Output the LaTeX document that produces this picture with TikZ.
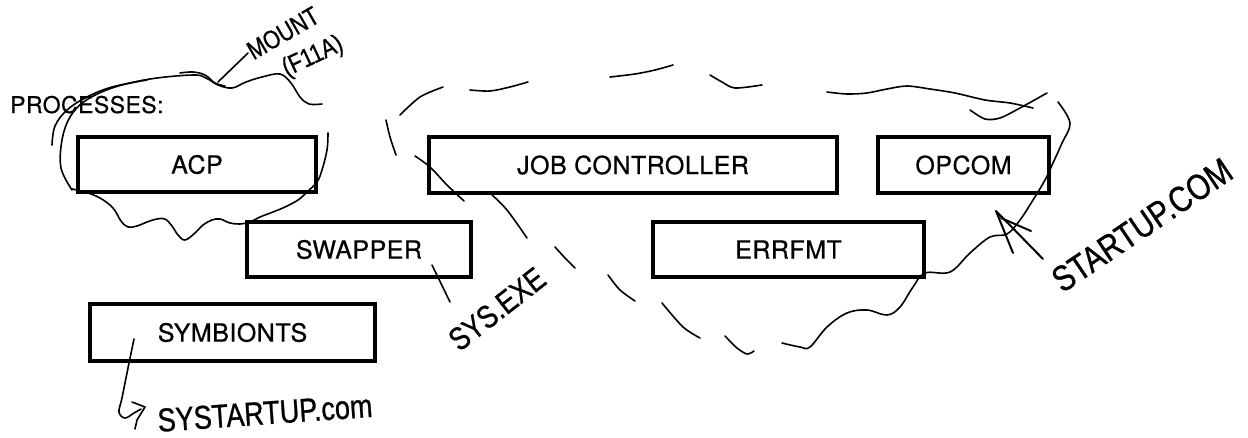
\documentclass[tikz,border=0pt]{standalone}
\usepackage{fontspec}
\setmainfont{TeX Gyre Heros}[LetterSpace=2, FakeBold=0.6]
\newfontfamily\hand{Liberation Sans}[FakeStretch=0.82, FakeBold=0.8]
\begin{document}
\begin{tikzpicture}[x=1pt,y=-1pt,
  procbox/.style={draw, line width=3.5pt, inner sep=0pt, font=\fontsize{25}{30}\selectfont},
  inkline/.style={line width=1.6pt, line cap=round, line join=round},
  scrawl/.style={inner sep=0pt}]

\fill[white] (0,0) rectangle (1248,437);
\useasboundingbox (0,0) rectangle (1248,437);

% heading
\node[anchor=base west, inner sep=0pt, font=\fontsize{23}{28}\selectfont] (heading) at (10,113) {PROCESSES:};

% process boxes
\node[procbox, minimum width=238pt, minimum height=55pt] (acp)    at (197,164.5)   {ACP};
\node[procbox, minimum width=408pt, minimum height=56pt] (jobctl) at (633,165)     {JOB CONTROLLER};
\node[procbox, minimum width=171pt, minimum height=56pt] (opcom)  at (963.5,165)   {OPCOM};
\node[procbox, minimum width=224pt, minimum height=55pt] (swap)   at (359,249.5)   {SWAPPER};
\node[procbox, minimum width=271pt, minimum height=55pt] (errfmt) at (788.5,249.5) {ERRFMT};
\node[procbox, minimum width=285pt, minimum height=57pt] (symb)   at (232.5,332.5) {SYMBIONTS};

% handwritten notes
\node[scrawl, rotate=30, font=\hand\fontsize{26}{30}\selectfont] (mount) at (283,33) {MOUNT};
\node[scrawl, rotate=25, font=\hand\fontsize{26}{30}\selectfont] (f11a) at (313,57) {(F11A)};
\node[scrawl, rotate=38, font=\hand\fontsize{32}{36}\selectfont] (sysexe) at (497,309) {SYS.EXE};
\node[scrawl, rotate=34, font=\hand\fontsize{36}{40}\selectfont] (startup) at (1142,225) {STARTUP.COM};
\node[scrawl, rotate=4, font=\hand\fontsize{33}{38}\selectfont] (systartup) at (265,413) {SYSTARTUP.com};

% scribbled outline round the ACP
\draw[inkline] plot[smooth, tension=0.6] coordinates {
  (72,190) (61,168) (62,140) (70,117) (85,101) (112,88) (150,79) (193,75)
  (206,78) (218,85) (232,88) (246,82) (262,77) (280,74) (291,83) (300,97)
  (309,104) (322,104)};
\draw[inkline] plot[smooth, tension=0.6] coordinates {
  (52,145) (55,126) (67,110) (87,97) (112,87) (147,80)};
\draw[inkline] plot[smooth, tension=0.6] coordinates {
  (180,73) (193,72) (205,75) (215,83) (225,86)};
\draw[inkline] plot[smooth, tension=0.6] coordinates {
  (328,133) (327,150) (322,170) (317,182) (307,192) (298,200) (285,207)
  (273,212) (260,217) (250,222) (240,224) (230,223) (220,219) (212,220)
  (203,225) (195,233) (185,240) (178,235) (172,226) (165,219) (157,219)
  (147,222) (137,226) (128,227) (121,221) (113,208) (100,198) (85,192) (72,189)};

% broken outline round the other processes
\draw[inkline] plot[smooth] coordinates {(400,115) (420,97) (443,87)};
\draw[inkline] plot[smooth] coordinates {(470,90) (490,91) (510,87) (528,82)};
\draw[inkline] plot[smooth] coordinates {(610,77) (635,74) (655,70) (673,65)};
\draw[inkline] plot[smooth] coordinates {(710,75) (722,82) (735,88) (762,85)};
\draw[inkline] plot[smooth] coordinates {
  (827,92) (847,94) (867,93) (887,89) (907,86) (930,89) (955,93) (985,100)
  (1010,103) (1033,108)};
\draw[inkline] plot[smooth] coordinates {(970,110) (985,119) (1000,118) (1020,108) (1047,93)};
\draw[inkline] plot[smooth] coordinates {(386,120) (390,137) (396,155)};
\draw[inkline] plot[smooth] coordinates {(415,156) (430,167) (447,185) (464,201)};
\draw[inkline] plot[smooth] coordinates {(490,193) (507,210) (527,238)};
\draw[inkline] plot[smooth] coordinates {(555,247) (565,258) (575,268)};
\draw[inkline] plot[smooth] coordinates {(608,275) (620,290) (635,301)};
\draw[inkline] plot[smooth] coordinates {(662,303) (683,327) (700,338)};
\draw[inkline] plot[smooth] coordinates {(725,336) (737,348) (747,354) (754,351)};
\draw[inkline] plot[smooth, tension=0.6] coordinates {
  (782,343) (800,347) (810,347) (827,327) (847,313) (867,310) (887,315)
  (900,307) (913,287) (925,273) (950,272) (970,253) (990,237) (1007,234)
  (1020,220) (1033,200) (1045,180) (1053,163) (1062,143) (1070,123) (1058,102)};

% pointer from MOUNT
\coordinate (mountfoot) at (218,82);
\coordinate (mounttop) at (248,53);
\draw[inkline] (mountfoot) -- (mounttop);

% SWAPPER to SYS.EXE
\coordinate (swapmark) at (432,265);
\coordinate (sysexeend) at (450,302);
\draw[inkline] (swapmark) -- (sysexeend);

% arrow from STARTUP.COM
\coordinate (tip) at (996,211);
\coordinate (tail) at (1043,259);
\coordinate (leg) at (1013,253);
\draw[inkline, line width=2pt] (tail) -- (tip) -- (leg);
\draw[inkline, line width=2pt] (1001,218) -- (1031,231);

% SYMBIONTS to SYSTARTUP.com
\coordinate (symbmark) at (134,339);
\draw[inkline] plot[smooth, tension=0.6] coordinates {
  (134,339) (128,368) (122,398) (119,412) (125,418) (134,413) (141,409)};
\draw[inkline] (132,402) -- (145,407) -- (137,420) -- (135,429);

\end{tikzpicture}
\end{document}
